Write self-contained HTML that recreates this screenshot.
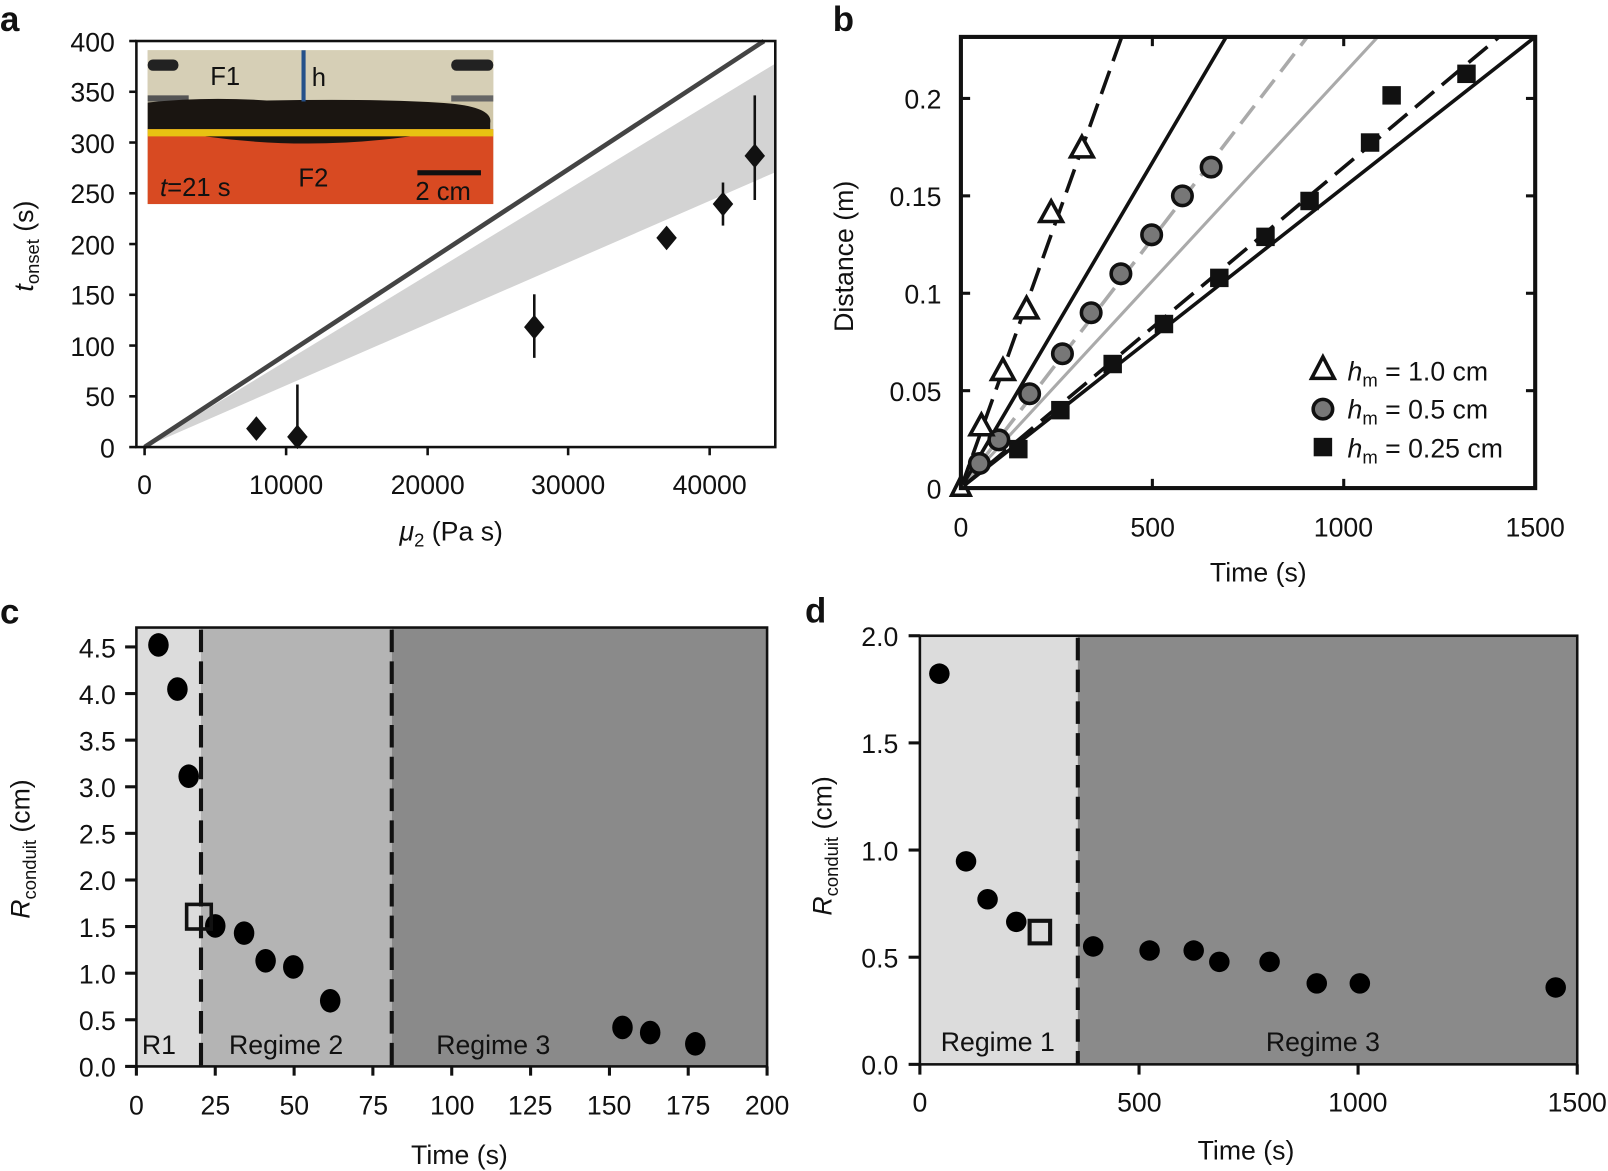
<!DOCTYPE html>
<html><head><meta charset="utf-8"><style>html,body{margin:0;padding:0;background:#fff}svg{display:block}text{font-family:"Liberation Sans",sans-serif;fill:#111}</style></head><body>
<svg width="1608" height="1171" viewBox="0 0 1568 1142" preserveAspectRatio="none" xmlns="http://www.w3.org/2000/svg">
<rect width="1568" height="1142" fill="#fff"/>
<!-- PANEL A -->
<text x="0" y="30" font-size="34" font-weight="bold">a</text>
<polygon points="141,436 756,62 756,168" fill="#d3d3d3"/>
<line x1="141" y1="436" x2="745" y2="40" stroke="#444" stroke-width="4.5"/>
<rect x="144" y="49" width="337" height="150" fill="#cfc6a8"/>
<rect x="144" y="49" width="337" height="50" fill="#d6cfb6"/>
<rect x="144" y="58" width="30" height="11" rx="5" fill="#222"/>
<rect x="440" y="58" width="41" height="11" rx="5" fill="#222"/>
<rect x="144" y="93" width="40" height="6" fill="#555"/>
<rect x="440" y="93" width="41" height="6" fill="#666"/>
<path d="M144,100 Q200,94 260,98 Q380,96 440,101 Q481,105 478,120 L478,126 L144,126 Z" fill="#1a1511"/>
<rect x="144" y="126" width="337" height="73" fill="#d84a22"/>
<rect x="144" y="126" width="337" height="7" fill="#e8c212"/>
<path d="M200,133 Q300,147 400,133 Z" fill="#1a1511"/>
<line x1="296" y1="49" x2="296" y2="99" stroke="#24508a" stroke-width="4"/>
<text x="205" y="83" font-size="25">F1</text>
<text x="304" y="84" font-size="25">h</text>
<text x="291" y="182" font-size="25">F2</text>
<text x="156" y="191" font-size="25"><tspan font-style="italic">t</tspan>=21 s</text>
<rect x="407" y="166" width="62" height="5" fill="#111"/>
<text x="405" y="195" font-size="25">2 cm</text>
<g stroke="#111" stroke-width="2.5">
<line x1="290" y1="436" x2="290" y2="375"/>
<line x1="521" y1="349" x2="521" y2="287"/>
<line x1="705" y1="220" x2="705" y2="178"/>
<line x1="736" y1="195" x2="736" y2="93"/>
</g>
<g fill="#111">
<polygon points="250,406 260,418 250,430 240,418"/>
<polygon points="290,414 300,426 290,438 280,426"/>
<polygon points="521,307 531,319 521,331 511,319"/>
<polygon points="650,220 660,232 650,244 640,232"/>
<polygon points="705,187 715,199 705,211 695,199"/>
<polygon points="736,140 746,152 736,164 726,152"/>
</g>
<rect x="133" y="40" width="623" height="396" fill="none" stroke="#111" stroke-width="2.5"/>
<g stroke="#111" stroke-width="2.5">
<line x1="126" y1="436" x2="133" y2="436"/><line x1="126" y1="386.5" x2="133" y2="386.5"/><line x1="126" y1="337" x2="133" y2="337"/><line x1="126" y1="287.5" x2="133" y2="287.5"/><line x1="126" y1="238" x2="133" y2="238"/><line x1="126" y1="188.5" x2="133" y2="188.5"/><line x1="126" y1="139" x2="133" y2="139"/><line x1="126" y1="89.5" x2="133" y2="89.5"/><line x1="126" y1="40" x2="133" y2="40"/>
<line x1="141" y1="436" x2="141" y2="444"/><line x1="279" y1="436" x2="279" y2="444"/><line x1="417" y1="436" x2="417" y2="444"/><line x1="554" y1="436" x2="554" y2="444"/><line x1="692" y1="436" x2="692" y2="444"/>
</g>
<g font-size="26" text-anchor="end">
<text x="112" y="446">0</text><text x="112" y="396">50</text><text x="112" y="347">100</text><text x="112" y="297">150</text><text x="112" y="248">200</text><text x="112" y="198">250</text><text x="112" y="149">300</text><text x="112" y="99">350</text><text x="112" y="50">400</text>
</g>
<g font-size="26" text-anchor="middle">
<text x="141" y="482">0</text><text x="279" y="482">10000</text><text x="417" y="482">20000</text><text x="554" y="482">30000</text><text x="692" y="482">40000</text>
<text x="440" y="527"><tspan font-style="italic">μ</tspan><tspan font-size="18" dy="6">2</tspan><tspan dy="-6"> (Pa s)</tspan></text>
</g>
<text transform="translate(32,240) rotate(-90)" font-size="26" text-anchor="middle"><tspan font-style="italic">t</tspan><tspan font-size="18" dy="6">onset</tspan><tspan dy="-6"> (s)</tspan></text>

<!-- PANEL B -->
<text x="812" y="30" font-size="34" font-weight="bold">b</text>
<defs><clipPath id="cb"><rect x="937" y="36" width="560" height="440"/></clipPath></defs>
<g clip-path="url(#cb)" fill="none">
<line x1="937" y1="476" x2="1274.8" y2="36" stroke="#aaa" stroke-width="3.5" stroke-dasharray="22 10"/>
<line x1="937" y1="476" x2="1343.5" y2="36" stroke="#aaa" stroke-width="3"/>
<line x1="937" y1="476" x2="1093.8" y2="36" stroke="#111" stroke-width="3.5" stroke-dasharray="24 10"/>
<line x1="937" y1="476" x2="1195.7" y2="36" stroke="#111" stroke-width="3.5"/>
<line x1="937" y1="476" x2="1461.9" y2="36" stroke="#111" stroke-width="3.5" stroke-dasharray="24 10"/>
<line x1="937" y1="476" x2="1497" y2="36" stroke="#111" stroke-width="3.5"/>
</g>
<g fill="#111">
<rect x="984" y="429" width="18" height="18"/><rect x="1025" y="391" width="18" height="18"/><rect x="1076" y="346" width="18" height="18"/><rect x="1126" y="307" width="18" height="18"/><rect x="1180" y="262" width="18" height="18"/><rect x="1225" y="222" width="18" height="18"/><rect x="1268" y="187" width="18" height="18"/><rect x="1327" y="130" width="18" height="18"/><rect x="1348" y="84" width="18" height="18"/><rect x="1421" y="63" width="18" height="18"/>
</g>
<g fill="#777" stroke="#111" stroke-width="3.5">
<circle cx="955" cy="452" r="9.5"/><circle cx="974" cy="429" r="9.5"/><circle cx="1004" cy="384" r="9.5"/><circle cx="1036" cy="345" r="9.5"/><circle cx="1064" cy="305" r="9.5"/><circle cx="1093" cy="267" r="9.5"/><circle cx="1123" cy="229" r="9.5"/><circle cx="1153" cy="191" r="9.5"/><circle cx="1181" cy="163" r="9.5"/>
</g>
<g fill="#fff" stroke="#111" stroke-width="3.5">
<polygon points="937,465 946,483 928,483"/>
<polygon points="957,404 968,424 946,424"/>
<polygon points="978,350 989,370 967,370"/>
<polygon points="1001,290 1012,310 990,310"/>
<polygon points="1025,196 1036,216 1014,216"/>
<polygon points="1055,133 1066,153 1044,153"/>
</g>
<rect x="937" y="36" width="560" height="440" fill="none" stroke="#111" stroke-width="4"/>
<g stroke="#111" stroke-width="3">
<line x1="937" y1="381" x2="946" y2="381"/><line x1="937" y1="286" x2="946" y2="286"/><line x1="937" y1="191" x2="946" y2="191"/><line x1="937" y1="96" x2="946" y2="96"/>
<line x1="1497" y1="381" x2="1488" y2="381"/><line x1="1497" y1="286" x2="1488" y2="286"/><line x1="1497" y1="191" x2="1488" y2="191"/><line x1="1497" y1="96" x2="1488" y2="96"/>
<line x1="1123.7" y1="476" x2="1123.7" y2="467"/><line x1="1310.3" y1="476" x2="1310.3" y2="467"/>
<line x1="1123.7" y1="36" x2="1123.7" y2="45"/><line x1="1310.3" y1="36" x2="1310.3" y2="45"/>
</g>
<g font-size="26" text-anchor="end">
<text x="918" y="486">0</text><text x="918" y="391">0.05</text><text x="918" y="296">0.1</text><text x="918" y="201">0.15</text><text x="918" y="106">0.2</text>
</g>
<g font-size="26" text-anchor="middle">
<text x="937" y="523">0</text><text x="1124" y="523">500</text><text x="1310" y="523">1000</text><text x="1497" y="523">1500</text>
<text x="1227" y="567">Time (s)</text>
</g>
<text transform="translate(832,250) rotate(-90)" font-size="26" text-anchor="middle">Distance (m)</text>
<polygon points="1290,348 1301,369 1279,369" fill="#fff" stroke="#111" stroke-width="3.5"/>
<circle cx="1290" cy="399" r="9.5" fill="#777" stroke="#111" stroke-width="3.5"/>
<rect x="1281" y="427" width="18" height="18" fill="#111"/>
<g font-size="26">
<text x="1314" y="371"><tspan font-style="italic">h</tspan><tspan font-size="18" dy="6">m</tspan><tspan dy="-6"> = 1.0 cm</tspan></text>
<text x="1314" y="408"><tspan font-style="italic">h</tspan><tspan font-size="18" dy="6">m</tspan><tspan dy="-6"> = 0.5 cm</tspan></text>
<text x="1314" y="446"><tspan font-style="italic">h</tspan><tspan font-size="18" dy="6">m</tspan><tspan dy="-6"> = 0.25 cm</tspan></text>
</g>

<!-- PANEL C -->
<text x="0" y="608" font-size="34" font-weight="bold">c</text>
<rect x="133" y="612" width="63" height="428" fill="#dcdcdc"/>
<rect x="196" y="612" width="186" height="428" fill="#b4b4b4"/>
<rect x="382" y="612" width="366" height="428" fill="#8a8a8a"/>
<g stroke="#111" stroke-width="4" stroke-dasharray="22 9">
<line x1="196" y1="614" x2="196" y2="1040"/><line x1="382" y1="614" x2="382" y2="1040"/>
</g>
<g fill="#000">
<ellipse cx="154.5" cy="629" rx="10" ry="11.5"/><ellipse cx="173" cy="672" rx="10" ry="11.5"/><ellipse cx="184" cy="757" rx="10" ry="11.5"/><ellipse cx="209.9" cy="903" rx="10" ry="11.5"/><ellipse cx="238" cy="910" rx="10" ry="11.5"/><ellipse cx="259" cy="937" rx="10" ry="11.5"/><ellipse cx="286" cy="943" rx="10" ry="11.5"/><ellipse cx="322" cy="976" rx="10" ry="11.5"/><ellipse cx="607" cy="1002" rx="10" ry="11.5"/><ellipse cx="634" cy="1007" rx="10" ry="11.5"/><ellipse cx="678" cy="1018" rx="10" ry="11.5"/>
</g>
<rect x="182" y="882" width="24" height="24" fill="none" stroke="#111" stroke-width="3.5"/>
<g font-size="26" text-anchor="middle">
<text x="155" y="1028">R1</text><text x="279" y="1028">Regime 2</text><text x="481" y="1028">Regime 3</text>
</g>
<rect x="133" y="612" width="615" height="428" fill="none" stroke="#111" stroke-width="2.5"/>
<g stroke="#111" stroke-width="3">
<line x1="122" y1="1040" x2="133" y2="1040"/><line x1="122" y1="994.5" x2="133" y2="994.5"/><line x1="122" y1="949.1" x2="133" y2="949.1"/><line x1="122" y1="903.6" x2="133" y2="903.6"/><line x1="122" y1="858.2" x2="133" y2="858.2"/><line x1="122" y1="812.7" x2="133" y2="812.7"/><line x1="122" y1="767.3" x2="133" y2="767.3"/><line x1="122" y1="721.8" x2="133" y2="721.8"/><line x1="122" y1="676.4" x2="133" y2="676.4"/><line x1="122" y1="630.9" x2="133" y2="630.9"/>
<line x1="133" y1="1040" x2="133" y2="1049"/><line x1="209.9" y1="1040" x2="209.9" y2="1049"/><line x1="286.8" y1="1040" x2="286.8" y2="1049"/><line x1="363.6" y1="1040" x2="363.6" y2="1049"/><line x1="440.5" y1="1040" x2="440.5" y2="1049"/><line x1="517.4" y1="1040" x2="517.4" y2="1049"/><line x1="594.3" y1="1040" x2="594.3" y2="1049"/><line x1="671.1" y1="1040" x2="671.1" y2="1049"/><line x1="748" y1="1040" x2="748" y2="1049"/>
</g>
<g font-size="26" text-anchor="end">
<text x="113" y="1050">0.0</text><text x="113" y="1004.5">0.5</text><text x="113" y="959">1.0</text><text x="113" y="913.6">1.5</text><text x="113" y="868">2.0</text><text x="113" y="822.7">2.5</text><text x="113" y="777.3">3.0</text><text x="113" y="731.8">3.5</text><text x="113" y="686.4">4.0</text><text x="113" y="641">4.5</text>
</g>
<g font-size="26" text-anchor="middle">
<text x="133" y="1087">0</text><text x="210" y="1087">25</text><text x="287" y="1087">50</text><text x="364" y="1087">75</text><text x="441" y="1087">100</text><text x="517" y="1087">125</text><text x="594" y="1087">150</text><text x="671" y="1087">175</text><text x="748" y="1087">200</text>
<text x="448" y="1135">Time (s)</text>
</g>
<text transform="translate(29,828) rotate(-90)" font-size="26" text-anchor="middle"><tspan font-style="italic">R</tspan><tspan font-size="18" dy="6">conduit</tspan><tspan dy="-6"> (cm)</tspan></text>

<!-- PANEL D -->
<text x="785" y="607" font-size="34" font-weight="bold">d</text>
<rect x="897" y="620" width="154" height="418" fill="#dcdcdc"/>
<rect x="1051" y="620" width="487" height="418" fill="#8a8a8a"/>
<line x1="1051" y1="622" x2="1051" y2="1038" stroke="#111" stroke-width="4" stroke-dasharray="22 9"/>
<g fill="#000">
<ellipse cx="916" cy="657" rx="10" ry="10"/><ellipse cx="942" cy="840" rx="10" ry="10"/><ellipse cx="963" cy="877" rx="10" ry="10"/><ellipse cx="991" cy="899" rx="10" ry="10"/><ellipse cx="1066" cy="923" rx="10" ry="10"/><ellipse cx="1121" cy="927" rx="10" ry="10"/><ellipse cx="1164" cy="927" rx="10" ry="10"/><ellipse cx="1189" cy="938" rx="10" ry="10"/><ellipse cx="1238" cy="938" rx="10" ry="10"/><ellipse cx="1284" cy="959" rx="10" ry="10"/><ellipse cx="1326" cy="959" rx="10" ry="10"/><ellipse cx="1517" cy="963" rx="10" ry="10"/>
</g>
<rect x="1004" y="898" width="20" height="22" fill="none" stroke="#111" stroke-width="4"/>
<g font-size="26" text-anchor="middle">
<text x="973" y="1025">Regime 1</text><text x="1290" y="1025">Regime 3</text>
</g>
<rect x="897" y="620" width="641" height="418" fill="none" stroke="#111" stroke-width="2.5"/>
<g stroke="#111" stroke-width="3">
<line x1="886" y1="1038" x2="897" y2="1038"/><line x1="886" y1="933.5" x2="897" y2="933.5"/><line x1="886" y1="829" x2="897" y2="829"/><line x1="886" y1="724.5" x2="897" y2="724.5"/><line x1="886" y1="620" x2="897" y2="620"/>
<line x1="897" y1="1038" x2="897" y2="1048"/><line x1="1110.7" y1="1038" x2="1110.7" y2="1048"/><line x1="1324.3" y1="1038" x2="1324.3" y2="1048"/><line x1="1538" y1="1038" x2="1538" y2="1048"/>
</g>
<g font-size="26" text-anchor="end">
<text x="876" y="1048">0.0</text><text x="876" y="943.5">0.5</text><text x="876" y="839">1.0</text><text x="876" y="734.5">1.5</text><text x="876" y="630">2.0</text>
</g>
<g font-size="26" text-anchor="middle">
<text x="897" y="1084">0</text><text x="1111" y="1084">500</text><text x="1324" y="1084">1000</text><text x="1538" y="1084">1500</text>
<text x="1215" y="1131">Time (s)</text>
</g>
<text transform="translate(811,825) rotate(-90)" font-size="26" text-anchor="middle"><tspan font-style="italic">R</tspan><tspan font-size="18" dy="6">conduit</tspan><tspan dy="-6"> (cm)</tspan></text>
</svg>
</body></html>
